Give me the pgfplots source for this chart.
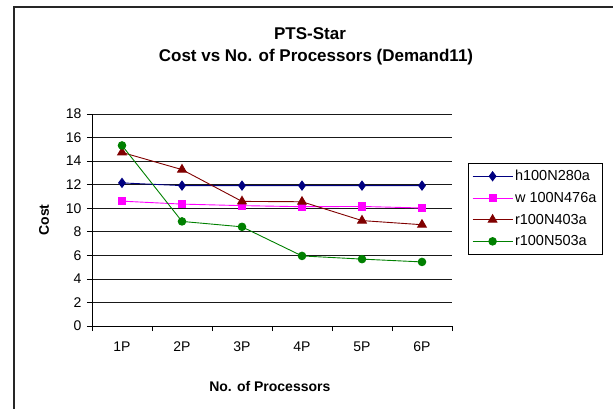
\documentclass[border=0pt]{standalone}
\usepackage{fontspec}
\setmainfont{Liberation Sans}
\usepackage{pgfplots}
\pgfplotsset{compat=1.18}

\definecolor{sNavy}{RGB}{0,0,128}
\definecolor{sMagenta}{RGB}{255,0,255}
\definecolor{sMaroon}{RGB}{128,0,0}
\definecolor{sGreen}{RGB}{0,128,0}

\begin{document}
\begin{tikzpicture}[x=1pt,y=1pt]
% the plot area's lower-left corner sits at the origin
\useasboundingbox (-92,-82) rectangle (521,326);
\begin{scope}[shift={(-92,-82)}]
  % chart frame
  \draw[line width=1.4pt,black!85] (14,-5) -- (14,401) -- (620,401);
  % titles
  \node[font=\bfseries\fontsize{17}{20}\selectfont] at (310,374) {PTS-Star};
  \node[font=\bfseries\fontsize{17}{20}\selectfont] at (316,351) {Cost vs No. of Processors (Demand11)};
\end{scope}

\begin{axis}[
  scale only axis, width=360pt, height=212pt,
  xmin=-0.5, xmax=5.5, ymin=0, ymax=18,
  axis x line*=bottom, axis y line*=left,
  axis line style={black, line width=0.8pt},
  ytick={0,2,...,18},
  xtick={-0.5,0.5,...,5.5}, xticklabels={},
  extra x ticks={0,1,2,3,4,5},
  extra x tick labels={1P,2P,3P,4P,5P,6P},
  extra x tick style={major tick length=0pt},
  tick align=outside, major tick length=5pt,
  tick style={black, line width=0.6pt},
  ymajorgrids, grid style={black!90, line width=0.7pt},
  ticklabel style={font=\fontsize{14}{16}\selectfont},
  /pgf/number format/assume math mode=true,
  xticklabel style={yshift=-12pt},
  yticklabel style={xshift=-2pt},
  xlabel={\bfseries No. of Processors},
  ylabel={\bfseries Cost},
  label style={font=\bfseries\fontsize{14}{16}\selectfont},
  xlabel style={at={(axis description cs:0.494,-0.283)}, anchor=center},
  ylabel style={at={(axis description cs:-0.133,0.5)}, anchor=center},
  legend style={at={(axis description cs:1.044,0.769)}, anchor=north west, legend cell align=left,
    draw=black, line width=0.6pt, font=\fontsize{14.5}{16}\selectfont,
    inner xsep=4pt, inner ysep=5pt, row sep=6pt},
  legend image code/.code={
    \draw[mark repeat=2, mark phase=2, #1] plot coordinates {(0pt,0pt) (20pt,0pt) (40pt,0pt)};
  },
  every axis plot/.append style={line width=0.9pt},
]
\addplot[sNavy, mark=diamond*, mark size=4.5pt] coordinates
  {(0,12.15) (1,11.92) (2,11.92) (3,11.92) (4,11.92) (5,11.92)};
\addlegendentry{h100N280a}
\addplot[sMagenta, mark=square*, mark size=3.6pt] coordinates
  {(0,10.6) (1,10.35) (2,10.22) (3,10.13) (4,10.15) (5,10.02)};
\addlegendentry{w 100N476a}
\addplot[sMaroon, mark=triangle*, mark size=5pt] coordinates
  {(0,14.74) (1,13.28) (2,10.58) (3,10.55) (4,8.95) (5,8.6)};
\addlegendentry{r100N403a}
\addplot[sGreen, mark=*, mark size=3.8pt] coordinates
  {(0,15.33) (1,8.88) (2,8.42) (3,5.95) (4,5.68) (5,5.44)};
\addlegendentry{r100N503a}
\end{axis}
\end{tikzpicture}
\end{document}
